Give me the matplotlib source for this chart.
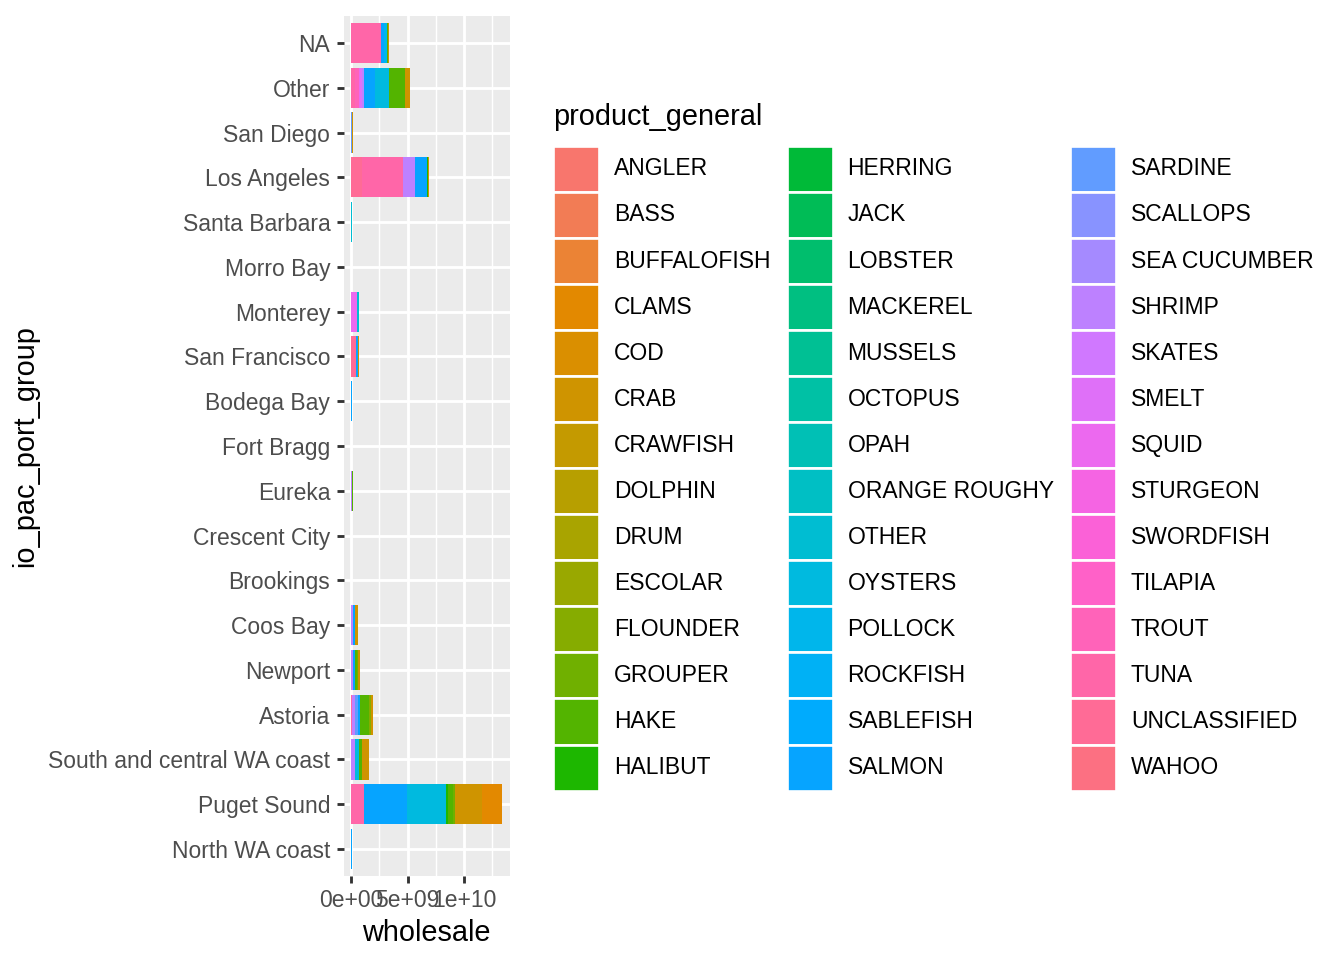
import numpy as np
import matplotlib
matplotlib.use("Agg")
import matplotlib.pyplot as plt
from matplotlib.patches import Patch

plt.rcParams['font.family'] = ['Liberation Sans', 'DejaVu Sans']

# ---------------- data ----------------
products = ["ANGLER", "BASS", "BUFFALOFISH", "CLAMS", "COD", "CRAB", "CRAWFISH",
            "DOLPHIN", "DRUM", "ESCOLAR", "FLOUNDER", "GROUPER", "HAKE", "HALIBUT",
            "HERRING", "JACK", "LOBSTER", "MACKEREL", "MUSSELS", "OCTOPUS", "OPAH",
            "ORANGE ROUGHY", "OTHER", "OYSTERS", "POLLOCK", "ROCKFISH", "SABLEFISH",
            "SALMON", "SARDINE", "SCALLOPS", "SEA CUCUMBER", "SHRIMP", "SKATES",
            "SMELT", "SQUID", "STURGEON", "SWORDFISH", "TILAPIA", "TROUT", "TUNA",
            "UNCLASSIFIED", "WAHOO"]

# ports, bottom to top
ports = ["North WA coast", "Puget Sound", "South and central WA coast", "Astoria",
         "Newport", "Coos Bay", "Brookings", "Crescent City", "Eureka", "Fort Bragg",
         "Bodega Bay", "San Francisco", "Monterey", "Morro Bay", "Santa Barbara",
         "Los Angeles", "San Diego", "Other", "NA"]

north_wa_coast = {"SALMON": 6e7}
puget_sound = {"TUNA": 1.15e9, "SALMON": 3.8e9, "OYSTERS": 3.45e9, "HALIBUT": 1.5e8,
               "HAKE": 5.0e8, "GROUPER": 1.5e8, "CRAB": 2.36e9, "CLAMS": 1.8e9}
south_central_wa = {"TUNA": 3e7, "SHRIMP": 3.0e8, "OYSTERS": 3.5e8, "HAKE": 2.6e8,
                    "CRAB": 6.2e8}
astoria = {"TUNA": 9e7, "SHRIMP": 2.6e8, "SARDINE": 2.6e8, "SALMON": 1.8e8,
           "HAKE": 8.0e8, "FLOUNDER": 1.8e8, "CRAB": 1.8e8}
newport = {"SHRIMP": 1.6e8, "SALMON": 1.5e8, "HAKE": 2.2e8, "GROUPER": 5e7,
           "CRAB": 1.8e8}
coos_bay = {"SHRIMP": 1.8e8, "SALMON": 1.8e8, "CRAB": 2.6e8}
brookings = {"CRAB": 1e7}
crescent_city = {"CRAB": 1e7}
eureka = {"SHRIMP": 9e7, "HAKE": 9e7}
fort_bragg = {"CRAB": 1e7}
bodega_bay = {"SALMON": 6e7}
san_francisco = {"UNCLASSIFIED": 4.4e8, "SALMON": 1.8e8, "CRAB": 9e7}
monterey = {"SQUID": 5.3e8, "OTHER": 1.8e8}
morro_bay = {"ROCKFISH": 1e7}
santa_barbara = {"OTHER": 5e7}
los_angeles = {"UNCLASSIFIED": 1.0e9, "TUNA": 3.58e9, "SHRIMP": 1.09e9,
               "SALMON": 1.06e9, "HALIBUT": 9e7, "CRAB": 9e7}
san_diego = {"SARDINE": 6e7, "CRAB": 9e7}
other = {"TUNA": 3.5e8, "TROUT": 3.5e8, "SQUID": 1.2e8, "SMELT": 1.2e8,
         "SHRIMP": 2.0e8, "SALMON": 9.7e8, "OYSTERS": 1.21e9, "HALIBUT": 5e7,
         "HAKE": 1.39e9, "CRAB": 4.4e8}
na_group = {"TUNA": 2.65e9, "SALMON": 2.9e8, "POLLOCK": 2.4e8, "HAKE": 1.2e8,
            "CRAB": 3e7}

port_data = [north_wa_coast, puget_sound, south_central_wa, astoria, newport,
             coos_bay, brookings, crescent_city, eureka, fort_bragg, bodega_bay,
             san_francisco, monterey, morro_bay, santa_barbara, los_angeles,
             san_diego, other, na_group]

x_ticks = [0, 5e9, 1e10]
x_tick_labels = ["0e+00", "5e+09", "1e+10"]
x_minor = [2.5e9, 7.5e9, 1.25e10]


# ---------------- ggplot hue palette ----------------
def hue_pal(n, h0=15, h1=375, c=100, l=65):
    if (h1 - h0) % 360 < 1:
        h1 = h1 - 360 / n
    hues = np.linspace(h0, h1, n) % 360
    cols = []
    WY, Wu, Wv = 100.0, 0.1978398, 0.4683363
    for h in hues:
        U = c * np.cos(np.radians(h))
        V = c * np.sin(np.radians(h))
        Y = WY * (((l + 16) / 116) ** 3 if l > 7.999592 else l / 903.3)
        u = U / (13 * l) + Wu
        v = V / (13 * l) + Wv
        X = 9.0 * Y * u / (4 * v)
        Z = -X / 3 - 5 * Y + 3 * Y / v

        def g(t):
            return 1.055 * t ** (1 / 2.4) - 0.055 if t > 0.00304 else 12.92 * t
        r = g((3.240479 * X - 1.537150 * Y - 0.498535 * Z) / WY)
        gg = g((-0.969256 * X + 1.875992 * Y + 0.041556 * Z) / WY)
        b = g((0.055648 * X - 0.204043 * Y + 1.057311 * Z) / WY)
        cols.append(tuple(min(max(x, 0), 1) for x in (r, gg, b)))
    return cols


colors = dict(zip(products, hue_pal(len(products))))

# ---------------- figure ----------------
SMALL = 8.6
BIG = 10.85
fig = plt.figure(figsize=(7, 5), dpi=192)
W, H = 1344, 960
ax = fig.add_axes([343.5 / W, 1 - 875.9 / H, (509.5 - 343.5) / W, (875.9 - 16.1) / H])
ax.set_facecolor("#EBEBEB")

ypos = np.arange(len(ports))
lefts = np.zeros(len(ports))
for prod in reversed(products):
    vals = np.array([d.get(prod, 0.0) for d in port_data])
    if vals.sum() == 0:
        continue
    ax.barh(ypos, vals, left=lefts, height=0.9, color=colors[prod], linewidth=0,
            zorder=3)
    lefts = lefts + vals

xmax = lefts.max()
ax.set_xlim(-0.05 * xmax, 1.05 * xmax)
ax.set_ylim(-0.6, len(ports) - 0.4)

ax.set_xticks(x_ticks)
ax.set_xticklabels(x_tick_labels)
ax.set_xticks(x_minor, minor=True)
ax.set_yticks(ypos)
ax.set_yticklabels(ports)

for s in ax.spines.values():
    s.set_visible(False)

ax.grid(which="major", color="white", linewidth=1.07, zorder=1)
ax.grid(which="minor", axis="x", color="white", linewidth=0.53, zorder=1)
ax.set_axisbelow(True)
ax.tick_params(axis="both", which="major", length=2.75, width=1.07, color="#333333",
               labelsize=SMALL, labelcolor="#4D4D4D", pad=2.2)
ax.tick_params(axis="x", which="minor", length=0)

ax.set_xlabel("wholesale", fontsize=BIG, color="black", labelpad=2.75)
ax.set_ylabel("io_pac_port_group", fontsize=BIG, color="black", labelpad=3.5)

# legend (ggplot-like: 17.28pt square keys, stacked, 3 columns)
key_pt = 17.28
hl = key_pt / SMALL
hh = (key_pt / SMALL - 0.245) / 0.65
handles = [Patch(facecolor=colors[p], edgecolor="white", linewidth=1.0) for p in products]
leg = fig.legend(handles, products, ncol=3, loc="upper left",
                 bbox_to_anchor=(553 / W, 1 - 145.5 / H), frameon=False,
                 fontsize=SMALL, handlelength=hl, handleheight=hh,
                 labelspacing=0.0, handletextpad=5.6 / SMALL, columnspacing=0.7,
                 borderpad=0, borderaxespad=0)
fig.text(553 / W, 1 - 117 / H, "product_general", fontsize=BIG, color="black",
         ha="left", va="center")

fig.savefig("out.png", dpi=192, facecolor="white")
